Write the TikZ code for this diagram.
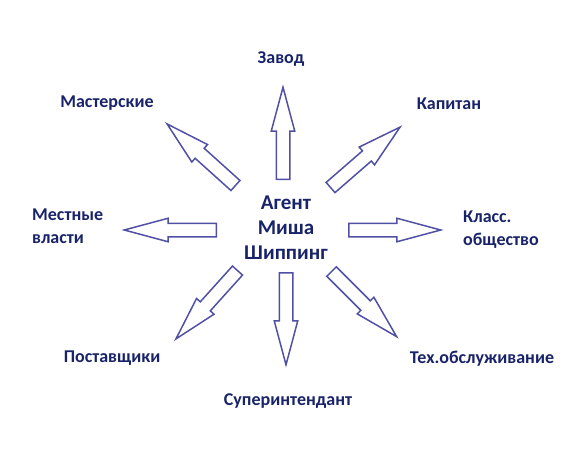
\documentclass[tikz,border=0pt]{standalone}
\usepackage{fontspec}
\setmainfont{Carlito}
\usetikzlibrary{shapes.arrows}
\definecolor{arrowblue}{RGB}{80,80,165}
\definecolor{labelnavy}{RGB}{25,35,105}

\begin{document}
\begin{tikzpicture}[
  x=1pt, y=-1pt,
  barrow/.style={draw=arrowblue, line width=1.5pt, shape=single arrow, anchor=tail,
    inner xsep=0pt, inner ysep=6pt, minimum height=92pt,
    single arrow head extend=5pt, single arrow tip angle=30},
  lab/.style={text=labelnavy, font=\fontsize{18}{23}\selectfont\bfseries, inner sep=0pt},
  hub/.style={text=labelnavy, font=\fontsize{21}{25}\selectfont\bfseries, align=center, inner sep=0pt}
]
  \useasboundingbox (0,0) rectangle (573,451);

  % centre
  \node[hub] (agent) at (286,228) {Агент\\Миша\\Шиппинг};

  % arrows, placed by their tails
  \node[barrow, rotate=90]   (aup)    at (283,180) {};
  \node[barrow, rotate=-90]  (adown)  at (286,272) {};
  \node[barrow, rotate=180]  (aleft)  at (217,230) {};
  \node[barrow, rotate=0]    (aright) at (348,230) {};
  \node[barrow, rotate=138]  (aul)    at (236,186) {};
  \node[barrow, rotate=41]   (aur)    at (330,188) {};
  \node[barrow, rotate=-45]  (adr)    at (331,271) {};
  \node[barrow, rotate=-132] (adl)    at (238,270) {};

  % labels
  \node[lab] (zavod)   at (281,59)  {Завод};
  \node[lab] (master)  at (107,103) {Мастерские};
  \node[lab] (kapitan) at (449,104) {Капитан};
  \node[lab, align=left, anchor=west] (vlast) at (32,226) {Местные\\власти};
  \node[lab, align=left, anchor=west] (klass) at (463,230) {Класс.\\общество};
  \node[lab] (postav)  at (112,358) {Поставщики};
  \node[lab] (texob)   at (482,359) {Тех.обслуживание};
  \node[lab] (super)   at (288,401) {Суперинтендант};
\end{tikzpicture}
\end{document}
